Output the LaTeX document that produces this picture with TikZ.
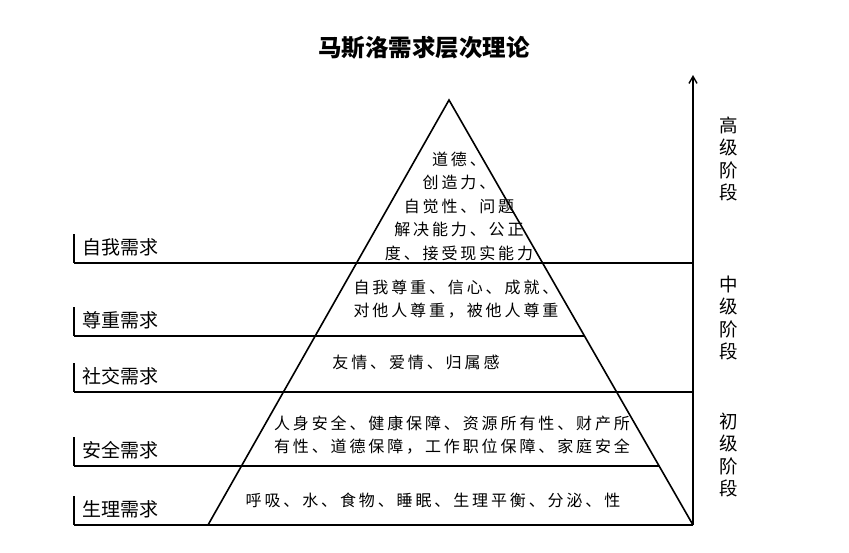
\documentclass[tikz,border=0pt]{standalone}
\usepackage{fontspec}
\setmainfont{Noto Sans CJK SC}
\newfontfamily\cjkwide[LetterSpace=18]{Noto Sans CJK SC}
\usetikzlibrary{arrows.meta,calc}

\begin{document}
\begin{tikzpicture}[
  x=1pt, y=-1pt,
  layer/.style={line width=1.6pt},
  tick/.style={line width=1.6pt},
  axis/.style={line width=1.4pt, -{Straight Barb[length=7pt, width=8pt]}},
  title/.style={font=\fontsize{23.5}{26}\selectfont\bfseries},
  needlabel/.style={anchor=west, inner sep=0pt, font=\fontsize{19}{22}\selectfont},
  content/.style={align=center, inner sep=0pt, font=\cjkwide\fontsize{16}{23.5}\selectfont},
  stage/.style={align=center, inner sep=0pt, font=\fontsize{18.5}{22.5}\selectfont}
]
\useasboundingbox (0,0) rectangle (849,552);

% ---------- title ----------
\node[title] (heading) at (424,48) {马斯洛需求层次理论};

% ---------- pyramid ----------
\coordinate (apex) at (449,100);
\coordinate (baseL) at (208,525);
\coordinate (baseR) at (693,525);
\draw[layer] (baseL) -- (apex) -- (baseR);

% layer lines (from the left ticks to the pyramid edge or the axis)
\draw[layer] (74,263) -- (693,263);
\draw[layer] (74,336) -- ($(apex)!{(336-100)/425}!(baseR)$);
\draw[layer] (74,392) -- (693,392);
\draw[layer] (74,466) -- ($(apex)!{(466-100)/425}!(baseR)$);
\draw[layer] (74,525) -- (baseR);

% ---------- need labels ----------
\foreach \y/\name/\txt in {263/self/自我需求, 336/esteem/尊重需求, 392/social/社交需求,
                           466/safety/安全需求, 525/body/生理需求}{
  \draw[tick] (74,\y-29) -- (74,\y);
  \node[needlabel] (lab-\name) at (82,\y-16) {\txt};
}

% ---------- contents ----------
\node[content] (cSelf) at (459,206)
  {道德、\\创造力、\\自觉性、问题\\解决能力、公正\\度、接受现实能力};
\node[content] (cEsteem) at (456,299)
  {自我尊重、信心、成就、\\对他人尊重，被他人尊重};
\node[content] (cSocial) at (416,362) {友情、爱情、归属感};
\node[content] (cSafety) at (452,435)
  {人身安全、健康保障、资源所有性、财产所\\有性、道德保障，工作职位保障、家庭安全};
\node[content] (cBody) at (433,500) {呼吸、水、食物、睡眠、生理平衡、分泌、性};

% ---------- stage axis ----------
\coordinate (axisTop) at (693,75);
\draw[axis] (baseR) -- (axisTop);
\node[stage] (high) at (729,159) {高\\级\\阶\\段};
\node[stage] (mid)  at (729,318) {中\\级\\阶\\段};
\node[stage] (low)  at (729,455) {初\\级\\阶\\段};
\end{tikzpicture}
\end{document}
